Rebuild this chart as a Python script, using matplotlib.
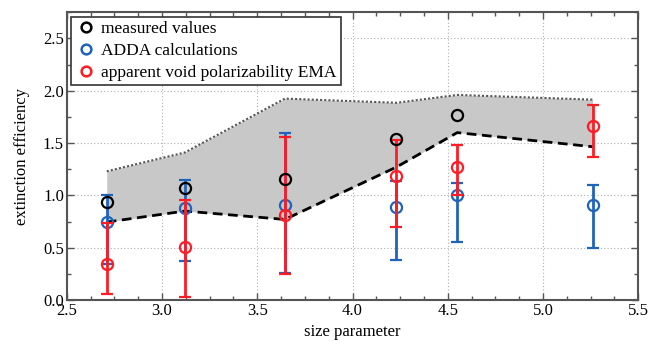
import matplotlib
matplotlib.use("Agg")
import matplotlib.pyplot as plt
from matplotlib.lines import Line2D
from matplotlib.ticker import MultipleLocator, FormatStrFormatter
import numpy as np

plt.rcParams['font.family'] = ['Liberation Serif', 'DejaVu Serif']

# data
size_x = [2.71, 3.12, 3.645, 4.23, 4.55, 5.26]
measured_x = [2.71, 3.12, 3.645, 4.23, 4.55]
measured_y = [0.94, 1.07, 1.155, 1.54, 1.77]

adda_y = [0.75, 0.88, 0.91, 0.89, 1.00, 0.91]
adda_lo = [0.34, 0.37, 0.26, 0.385, 0.55, 0.50]
adda_hi = [1.00, 1.145, 1.595, 1.135, 1.12, 1.095]

ema_y = [0.34, 0.51, 0.815, 1.19, 1.27, 1.665]
ema_lo = [0.06, 0.03, 0.25, 0.70, 1.00, 1.37]
ema_hi = [0.74, 0.955, 1.56, 1.53, 1.48, 1.865]

band_lower = [0.745, 0.85, 0.77, 1.27, 1.60, 1.465]
band_upper = [1.23, 1.41, 1.925, 1.885, 1.96, 1.915]

blue = '#1f64bb'
red = '#ff1c24'

fig = plt.figure(figsize=(6.49, 3.45), dpi=100)
ax = fig.add_axes([0.1028, 0.1304, 0.8807, 0.834])

ax.fill_between(size_x, band_lower, band_upper, color='#c8c8c8', linewidth=0, zorder=1)
ax.plot(size_x, band_upper, linestyle=(0, (1, 1)), color='#555555', linewidth=1.5, zorder=2)
ax.plot(size_x, band_lower, linestyle=(0, (3.5, 2)), color='black', linewidth=2.0, zorder=2)

adda_err = [np.array(adda_y) - np.array(adda_lo), np.array(adda_hi) - np.array(adda_y)]
ema_err = [np.array(ema_y) - np.array(ema_lo), np.array(ema_hi) - np.array(ema_y)]

ax.errorbar(size_x, adda_y, yerr=adda_err, fmt='o', color=blue, mfc='none', mec=blue,
            markersize=8, mew=1.6, elinewidth=2.0, capsize=4.5, capthick=2.0, zorder=3)
ax.errorbar(size_x, ema_y, yerr=ema_err, fmt='o', color=red, mfc='none', mec=red,
            markersize=8, mew=1.6, elinewidth=2.0, capsize=4.5, capthick=2.0, zorder=4)
ax.plot(measured_x, measured_y, 'o', mfc='none', mec='black', markersize=8, mew=1.6, zorder=5)

ax.set_xlim(2.5, 5.5)
ax.set_ylim(0, 2.75)
ax.xaxis.set_major_locator(MultipleLocator(0.5))
ax.xaxis.set_minor_locator(MultipleLocator(0.125))
ax.yaxis.set_major_locator(MultipleLocator(0.5))
ax.yaxis.set_minor_locator(MultipleLocator(0.25))
ax.xaxis.set_major_formatter(FormatStrFormatter('%.1f'))
ax.yaxis.set_major_formatter(FormatStrFormatter('%.1f'))

ax.tick_params(which='both', direction='in', top=True, right=True, color='#555555',
               labelsize=12)
ax.tick_params(which='major', length=5, width=1)
ax.tick_params(which='minor', length=3, width=1)
ax.tick_params(axis='x', pad=2)
ax.tick_params(axis='y', pad=2)

for s in ax.spines.values():
    s.set_color('#555555')
    s.set_linewidth(1.5)

ax.grid(True, which='major', linestyle=(0, (1, 2)), color='#b0b0b0', linewidth=0.8)
ax.set_axisbelow(True)

ax.set_xlabel('size parameter', fontsize=12, labelpad=4)
ax.set_ylabel('extinction efficiency', fontsize=12, labelpad=9)

handles = [
    Line2D([], [], marker='o', linestyle='none', mfc='none', mec='black', markersize=7, mew=1.8),
    Line2D([], [], marker='o', linestyle='none', mfc='none', mec=blue, markersize=7, mew=1.8),
    Line2D([], [], marker='o', linestyle='none', mfc='none', mec=red, markersize=7, mew=1.8),
]
labels = ['measured values', 'ADDA calculations', 'apparent void polarizability EMA']
leg = ax.legend(handles, labels, loc='upper left', fontsize=12.5, frameon=True, fancybox=False,
                edgecolor='#333333', framealpha=1, borderpad=0.25, labelspacing=0.33,
                handletextpad=0.3, handlelength=1.2, borderaxespad=0.25)
leg.get_frame().set_linewidth(1.2)

fig.savefig('out.png', dpi=100)
